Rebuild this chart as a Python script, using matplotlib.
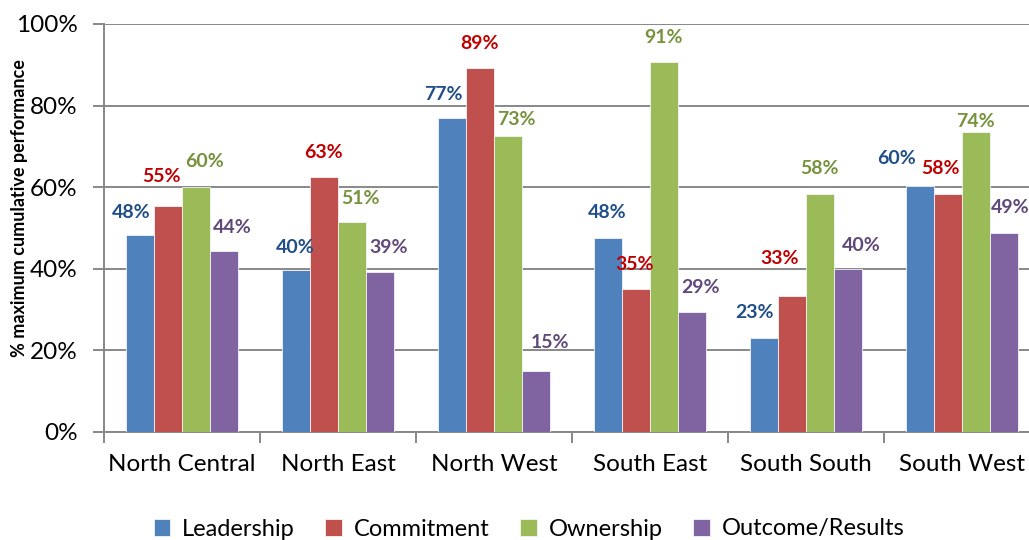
import matplotlib
matplotlib.use("Agg")
import matplotlib.pyplot as plt
import numpy as np

plt.rcParams['font.family'] = ['Lato', 'DejaVu Sans']

# --- data --- #
regions = ["North Central", "North East", "North West", "South East", "South South", "South West"]
series_names = ["Leadership", "Commitment", "Ownership", "Outcome/Results"]
leadership = [48.3, 39.7, 77.0, 47.6, 23.0, 60.4]
commitment = [55.4, 62.6, 89.2, 35.0, 33.3, 58.3]
ownership = [60.0, 51.4, 72.6, 90.7, 58.3, 73.6]
outcome = [44.4, 39.2, 15.0, 29.4, 40.0, 48.8]
y_ticks = [0, 20, 40, 60, 80, 100]

# --- style --- #
bar_colors = ["#4F81BD", "#C0504D", "#9BBB59", "#8064A2"]
text_colors = ["#1F4E89", "#C00000", "#76923C", "#5F497A"]
grid_col = "#888888"

# label nudges (dx in px, dy in %), per region, per series
label_nudge = [
    [(-9, 5.6), (-6, 7.1), (8, 6.2), (8, 5.8)],
    [(-1, 5.6), (-1, 5.8), (8, 5.9), (8, 6.1)],
    [(-9, 5.6), (0, 6.1), (8, 3.9), (14, 7.0)],
    [(-1, 6.1), (-1, 6.0), (-1, 5.9), (8, 5.9)],
    [(-9, 6.2), (-12, 9.3), (-1, 6.2), (13, 5.8)],
    [(-23, 6.6), (-7, 6.2), (-1, 2.6), (6, 6.2)],
]

W, H = 1029, 540
fig = plt.figure(figsize=(W / 100, H / 100), dpi=100)
ax = fig.add_axes([104 / W, (H - 432) / H, 936 / W, 408 / H])

x = np.arange(len(regions))
bw = 0.18
all_series = [leadership, commitment, ownership, outcome]
for k, vals in enumerate(all_series):
    pos = x + (k - 1.5) * bw
    ax.bar(pos, vals, width=bw, color=bar_colors[k], edgecolor="#f4f4f4",
           linewidth=0.6, label=series_names[k], zorder=3)
    for i, v in enumerate(vals):
        dx, dy = label_nudge[i][k]
        ax.text(pos[i] + dx / 156, v + dy, f"{v:.0f}%", ha="center", va="center",
                fontsize=14, fontweight="bold", color=text_colors[k], zorder=4)

ax.set_xlim(-0.5, 5.5)
ax.set_ylim(0, 100)
ax.set_yticks(y_ticks)
ax.set_yticklabels([f"{t}%" for t in y_ticks], fontsize=17.5)
ax.yaxis.grid(True, color=grid_col, linewidth=1.4, zorder=0)
ax.set_axisbelow(True)

# category labels centered, ticks between groups
ax.set_xticks(x)
ax.set_xticklabels(regions, fontsize=17.5)
ax.tick_params(axis="x", length=0, pad=16)
ax.set_xticks(np.arange(-0.5, 6.0, 1.0), minor=True)
ax.tick_params(axis="x", which="minor", length=8, width=1.4, color=grid_col, direction="out")
ax.tick_params(axis="y", length=8, width=1.4, color=grid_col, direction="out", pad=11)

for s in ["top", "right"]:
    ax.spines[s].set_visible(False)
for s in ["left", "bottom"]:
    ax.spines[s].set_color(grid_col)
    ax.spines[s].set_linewidth(1.4)

fig.text(20 / W, 1 - 208 / H, "% maximum cumulative performance", rotation=90,
         ha="center", va="center", fontsize=13, fontweight="bold")

fig.legend(loc="center", bbox_to_anchor=(529 / W, 1 - 529 / H), ncol=4, frameon=False,
           fontsize=17, handlelength=0.7, handleheight=0.7, handletextpad=0.5,
           columnspacing=1.3)

fig.savefig("out.png", dpi=100)
